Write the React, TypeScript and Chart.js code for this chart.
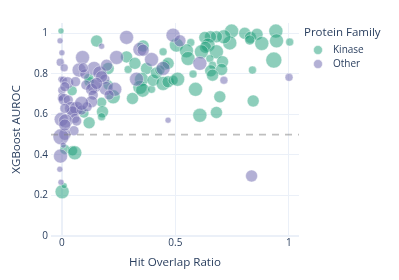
import React, { useEffect, useRef } from "react";
import { Chart, registerables } from "chart.js";

Chart.register(...registerables);

// ---- Data ----
const kinaseX = [
  -0.004, 0.153, 0.045, 0.175, 0.179, 0.175, 0.120, 0.013, 0.047, 0.057,
  0.001, 0.010, 0.285, 0.292, 0.322, 0.358, 0.373, 0.351, 0.344, 0.356,
  0.311, 0.395, 0.402, 0.417, 0.454, 0.468, 0.446, 0.446, 0.468, 0.490,
  0.510, 0.505, 0.568, 0.549, 0.578, 0.589, 0.608, 0.226, 0.120, 0.748,
  0.806, 0.831, 0.860, 0.828, 0.881, 0.943, 0.946, 1.004, 0.934, 0.840,
  0.843, 0.740, 0.714, 0.681, 0.655, 0.630, 0.644, 0.633, 0.615, 0.681,
  0.556, 0.652, 0.708, 0.664, 0.656, 0.704, 0.664, 0.696, 0.681, 0.204,
  0.119, 0.432, 0.204, 0.097,
];
const kinaseY = [
  1.011, 0.961, 0.716, 0.659, 0.612, 0.588, 0.558, 0.427, 0.420, 0.410,
  0.218, 0.248, 0.883, 0.821, 0.851, 0.937, 0.826, 0.772, 0.733, 0.719,
  0.678, 0.723, 0.768, 0.804, 0.842, 0.851, 0.908, 0.752, 0.760, 0.768,
  0.773, 0.941, 0.954, 0.913, 0.798, 0.723, 0.595, 0.686, 0.761, 1.010,
  0.999, 0.979, 0.994, 0.966, 0.949, 1.010, 0.962, 0.956, 0.867, 0.818,
  0.666, 0.952, 0.982, 0.982, 0.982, 0.979, 0.941, 0.930, 0.908, 0.908,
  0.875, 0.875, 0.859, 0.842, 0.814, 0.821, 0.793, 0.686, 0.609, 0.826,
  0.777, 0.818, 0.744, 0.606,
];
const kinaseSize = [
  3, 6, 5, 5, 6, 4, 6, 5, 5, 7,
  7, 3, 6, 4, 6, 6, 6, 7, 7, 7,
  6, 4, 6, 6, 5, 6, 4, 7, 6, 5,
  7, 7, 4, 7, 4, 7, 7, 7, 5, 7,
  6, 6, 6, 5, 7, 7, 7, 4, 8, 4,
  6, 7, 7, 6, 6, 6, 7, 6, 7, 7,
  7, 4, 6, 4, 6, 6, 6, 6, 6, 6,
  5, 5, 5, 5,
];

const otherX = [
  -0.008, 0.000, -0.007, 0.010, -0.004, 0.006, 0.025, 0.000, 0.000, -0.006,
  0.010, 0.028, 0.043, 0.065, 0.047, 0.087, 0.057, -0.003, 0.016, 0.053,
  0.013, -0.004, -0.006, -0.009, -0.004, 0.006, 0.836, 0.285, 0.175, 0.091,
  0.241, 0.142, 0.076, 0.167, 0.101, 0.197, 0.329, 0.395, 0.344, 0.358,
  0.446, 0.490, 0.520, 0.189, 0.194, 0.233, 0.208, 0.142, 0.106, 0.131,
  0.138, 0.131, 0.111, 0.060, 0.087, 0.468, 0.608, 0.714, 1.001, 0.094,
  0.175, 0.013, 0.153, 0.013, 0.065, 0.013,
];
const otherY = [
  0.962, 0.903, 0.856, 0.829, 0.773, 0.768, 0.755, 0.719, 0.686, 0.678,
  0.673, 0.670, 0.629, 0.629, 0.612, 0.621, 0.580, 0.575, 0.567, 0.519,
  0.501, 0.489, 0.394, 0.329, 0.265, 0.448, 0.296, 0.979, 0.936, 0.880,
  0.880, 0.826, 0.818, 0.804, 0.798, 0.842, 0.773, 0.870, 0.920, 0.916,
  0.826, 0.990, 0.962, 0.773, 0.728, 0.723, 0.695, 0.739, 0.744, 0.723,
  0.695, 0.662, 0.637, 0.761, 0.654, 0.571, 0.851, 0.768, 0.782, 0.829,
  0.785, 0.736, 0.752, 0.547, 0.567, 0.629,
];
const otherSize = [
  3, 3, 4, 4, 3, 4, 6, 4, 4, 3,
  6, 5, 7, 7, 6, 5, 5, 7, 7, 5,
  6, 8, 7, 3, 3, 3, 6, 7, 3, 7,
  7, 7, 7, 7, 5, 6, 7, 7, 7, 6,
  7, 7, 6, 5, 7, 7, 5, 7, 5, 6,
  5, 6, 5, 5, 7, 3, 7, 4, 4, 5,
  6, 5, 6, 6, 5, 5,
];

const seriesNames = ["Kinase", "Other"];
const legendTitle = "Protein Family";
const xTicks = [0, 0.5, 1];
const yTicks = [0, 0.2, 0.4, 0.6, 0.8, 1];
const xRange = [-0.048, 1.045];
const yRange = [0, 1.05];
const refLineY = 0.5;
const xTitle = "Hit Overlap Ratio";
const yTitle = "XGBoost AUROC";

const GREEN = "rgba(27,158,119,0.5)";
const PURPLE = "rgba(117,112,179,0.55)";
const TEXT = "#2a3f5f";
const GRID = "#EBF0F8";
const FONT = "'Open Sans', sans-serif";

const fmt = (v: number) => String(Math.round(v * 10) / 10);

export default function App() {
  const ref = useRef<HTMLCanvasElement | null>(null);

  useEffect(() => {
    if (!ref.current) return;
    const legendPlugin = {
      id: "customLegend",
      afterDraw(chart: any) {
        const ctx = chart.ctx;
        ctx.save();
        ctx.fillStyle = TEXT;
        ctx.textBaseline = "middle";
        ctx.textAlign = "left";
        ctx.font = `11.5px ${FONT}`;
        ctx.fillText(legendTitle, 304, 33);
        const cols = [GREEN, PURPLE];
        seriesNames.forEach((name, i) => {
          const y = 50 + i * 14;
          ctx.beginPath();
          ctx.arc(318, y, 4.5, 0, Math.PI * 2);
          ctx.fillStyle = cols[i];
          ctx.fill();
          ctx.strokeStyle = "rgba(255,255,255,0.6)";
          ctx.lineWidth = 0.8;
          ctx.stroke();
          ctx.fillStyle = TEXT;
          ctx.font = `10px ${FONT}`;
          ctx.fillText(name, 333, y + 0.5);
        });
        ctx.restore();
      },
    };

    const chart = new Chart(ref.current, {
      type: "bubble",
      data: {
        datasets: [
          {
            type: "line",
            label: "ref",
            data: [
              { x: xRange[0], y: refLineY },
              { x: xRange[1], y: refLineY },
            ],
            borderColor: "rgba(128,128,128,0.5)",
            borderWidth: 1.7,
            borderDash: [7, 6],
            pointRadius: 0,
            order: 0,
          } as any,
          {
            label: seriesNames[1],
            data: otherX.map((x, i) => ({ x, y: otherY[i], r: otherSize[i] })),
            backgroundColor: PURPLE,
            borderColor: "rgba(255,255,255,0.5)",
            borderWidth: 0.8,
            order: 1,
            clip: false,
          } as any,
          {
            label: seriesNames[0],
            data: kinaseX.map((x, i) => ({ x, y: kinaseY[i], r: kinaseSize[i] })),
            backgroundColor: GREEN,
            borderColor: "rgba(255,255,255,0.5)",
            borderWidth: 0.8,
            order: 2,
            clip: false,
          } as any,
        ],
      },
      options: {
        animation: false,
        responsive: false,
        maintainAspectRatio: false,
        layout: { padding: { left: 0, right: 100, top: 23, bottom: 0 } },
        plugins: { legend: { display: false }, tooltip: { enabled: false } },
        scales: {
          x: {
            type: "linear",
            min: xRange[0],
            max: xRange[1],
            afterFit: (s: any) => {
              s.height = 44;
            },
            afterBuildTicks: (s: any) => {
              s.ticks = xTicks.map((v) => ({ value: v }));
            },
            ticks: {
              color: TEXT,
              font: { family: FONT, size: 10 },
              padding: 1,
              callback: (v: any) => fmt(Number(v)),
              maxRotation: 0,
            },
            grid: {
              color: GRID,
              drawTicks: false,
              lineWidth: (c: any) => (c.tick && c.tick.value === 0 ? 2 : 1),
            },
            border: { display: false },
            title: {
              display: true,
              text: xTitle,
              color: TEXT,
              font: { family: FONT, size: 11.6 },
              padding: { top: 0, bottom: 10 },
            },
          },
          y: {
            type: "linear",
            min: yRange[0],
            max: yRange[1],
            afterFit: (s: any) => {
              s.width = 51;
            },
            afterBuildTicks: (s: any) => {
              s.ticks = yTicks.map((v) => ({ value: v }));
            },
            ticks: {
              color: TEXT,
              font: { family: FONT, size: 10 },
              padding: 3,
              callback: (v: any) => fmt(Number(v)),
            },
            grid: {
              color: GRID,
              drawTicks: false,
              lineWidth: (c: any) => (c.tick && c.tick.value === 0 ? 2 : 1),
            },
            border: { display: false },
            title: {
              display: true,
              text: yTitle,
              color: TEXT,
              font: { family: FONT, size: 11.6 },
              padding: { top: 10, bottom: 0 },
            },
          },
        },
      },
      plugins: [legendPlugin],
    } as any);
    return () => chart.destroy();
  }, []);

  return (
    <div style={{ position: "absolute", left: 0, top: 0, width: 399, height: 280, background: "#fff" }}>
      <canvas ref={ref} width={399} height={280} style={{ width: 399, height: 280, display: "block" }} />
    </div>
  );
}
